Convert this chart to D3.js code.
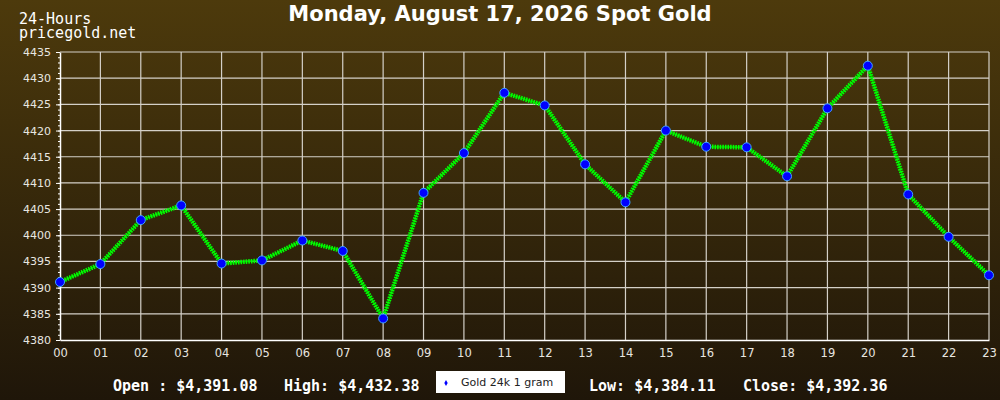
<!DOCTYPE html>
<html>
<head>
<meta charset="utf-8">
<script src="https://cdn.jsdelivr.net/npm/d3@7"></script>
<style>
  html, body { margin: 0; padding: 0; background: #201709; }
  svg { display: block; }
</style>
</head>
<body>
<div id="chart"></div>
<script>
// data
const hours = ["00", "01", "02", "03", "04", "05", "06", "07", "08", "09", "10", "11",
  "12", "13", "14", "15", "16", "17", "18", "19", "20", "21", "22", "23"];
const prices = [4391.08, 4394.5, 4402.9, 4405.7, 4394.6, 4395.2, 4399.0, 4397.0,
  4384.11, 4408.1, 4415.7, 4427.2, 4424.8, 4413.55, 4406.3, 4420.0, 4416.9, 4416.8,
  4411.26, 4424.25, 4432.38, 4407.8, 4399.7, 4392.36];
const yTicks = [4380, 4385, 4390, 4395, 4400, 4405, 4410, 4415, 4420, 4425, 4430, 4435];
const titleText = "Monday, August 17, 2026 Spot Gold";
const stats = [
  { label: "Open : $4,391.08", x: 113 },
  { label: "High: $4,432.38", x: 284 },
  { label: "Low: $4,384.11", x: 589 },
  { label: "Close: $4,392.36", x: 743 }
];
const seriesName = "Gold 24k 1 gram";

const width = 1000;
const height = 400;
const margin = { top: 52, right: 11, bottom: 60, left: 60 };
const innerWidth = width - margin.left - margin.right;
const innerHeight = height - margin.top - margin.bottom;

const svg = d3.select("#chart")
  .append("svg")
    .attr("width", width)
    .attr("height", height)
    .attr("viewBox", `0 0 ${width} ${height}`);

// background gradient
const grad = svg.append("defs")
  .append("linearGradient")
    .attr("id", "bg")
    .attr("x1", 0).attr("y1", 0).attr("x2", 0).attr("y2", 1);
grad.append("stop").attr("offset", "0%").attr("stop-color", "#4d3a0c");
grad.append("stop").attr("offset", "100%").attr("stop-color", "#1f1609");

svg.append("rect")
  .attr("width", width)
  .attr("height", height)
  .attr("fill", "url(#bg)");

const xScale = d3.scalePoint()
  .domain(hours)
  .range([0, innerWidth]);

const yScale = d3.scaleLinear()
  .domain([4380, 4435])
  .range([innerHeight, 0]);

const chart = svg.append("g")
  .attr("transform", `translate(${margin.left}, ${margin.top})`);

// grid
chart.append("g")
  .selectAll("line")
  .data(hours.slice(1))
  .join("line")
    .attr("x1", (d) => xScale(d)).attr("x2", (d) => xScale(d))
    .attr("y1", 0).attr("y2", innerHeight)
    .attr("stroke", "#d4d0c8").attr("stroke-width", 1.2);

chart.append("g")
  .selectAll("line")
  .data(yTicks.slice(1))
  .join("line")
    .attr("x1", 0).attr("x2", innerWidth)
    .attr("y1", (d) => yScale(d)).attr("y2", (d) => yScale(d))
    .attr("stroke", "#d4d0c8").attr("stroke-width", 1.2);

// y axis: major ticks every 5, minor every 1
const yMinor = chart.append("g")
  .call(d3.axisLeft(yScale).ticks(55).tickSize(2).tickFormat(""));
yMinor.select(".domain").remove();
yMinor.selectAll("text").remove();
yMinor.selectAll("line").attr("stroke", "#ffffff");

const yAxis = chart.append("g")
  .call(d3.axisLeft(yScale).tickValues(yTicks).tickFormat(d3.format("d"))
    .tickSize(4).tickPadding(5).tickSizeOuter(0));
yAxis.select(".domain").attr("stroke", "#ffffff").attr("stroke-width", 1.5);
yAxis.selectAll(".tick line").attr("stroke", "#ffffff");
yAxis.selectAll("text")
  .attr("fill", "#e8e6e0")
  .attr("font-family", "DejaVu Sans")
  .attr("font-size", 11);

// x axis
const xAxis = chart.append("g")
  .attr("transform", `translate(0, ${innerHeight})`)
  .call(d3.axisBottom(xScale).tickSize(0).tickPadding(9).tickSizeOuter(0));
xAxis.select(".domain").attr("stroke", "#ffffff").attr("stroke-width", 1.5);
xAxis.selectAll("text")
  .attr("fill", "#e8e6e0")
  .attr("font-family", "DejaVu Sans")
  .attr("font-size", 11.5);

// price line with hatched look
const line = d3.line()
  .x((d, i) => xScale(hours[i]))
  .y((d) => yScale(d));

chart.append("path")
  .datum(prices)
  .attr("d", line)
  .attr("fill", "none")
  .attr("stroke", "#00c800")
  .attr("stroke-width", 1.5);

chart.append("path")
  .datum(prices)
  .attr("d", line)
  .attr("fill", "none")
  .attr("stroke", "#00ff00")
  .attr("stroke-width", 4.5)
  .attr("stroke-dasharray", "1.6 1");

// markers
chart.selectAll(".dot")
  .data(prices)
  .join("circle")
    .attr("class", "dot")
    .attr("cx", (d, i) => xScale(hours[i]))
    .attr("cy", (d) => yScale(d))
    .attr("r", 4.5)
    .attr("fill", "#0000ff")
    .attr("stroke", "#3fa4ff")
    .attr("stroke-width", 1);

// titles
svg.append("text")
  .attr("x", 500).attr("y", 21)
  .attr("text-anchor", "middle")
  .attr("fill", "#ffffff")
  .attr("font-family", "DejaVu Sans")
  .attr("font-weight", "bold")
  .attr("font-size", 21)
  .text(titleText);

svg.append("text")
  .attr("x", 19).attr("y", 24)
  .attr("fill", "#ffffff")
  .attr("font-family", "DejaVu Sans Mono")
  .attr("font-size", 15)
  .text("24-Hours");

svg.append("text")
  .attr("x", 19).attr("y", 38)
  .attr("fill", "#ffffff")
  .attr("font-family", "DejaVu Sans Mono")
  .attr("font-size", 15)
  .text("pricegold.net");

// bottom stats
svg.selectAll(".stat")
  .data(stats)
  .join("text")
    .attr("class", "stat")
    .attr("x", (d) => d.x).attr("y", 391)
    .attr("fill", "#ffffff")
    .attr("font-family", "DejaVu Sans Mono")
    .attr("font-weight", "bold")
    .attr("font-size", 15)
    .text((d) => d.label);

// legend
const legend = svg.append("g").attr("transform", "translate(436, 371)");
legend.append("rect")
  .attr("width", 129).attr("height", 22)
  .attr("fill", "#ffffff");
legend.append("path")
  .attr("d", d3.symbol(d3.symbolDiamond, 10)())
  .attr("transform", "translate(10, 12)")
  .attr("fill", "#0000ff");
legend.append("text")
  .attr("x", 25).attr("y", 15)
  .attr("fill", "#222222")
  .attr("font-family", "DejaVu Sans")
  .attr("font-size", 11)
  .text(seriesName);
</script>
</body>
</html>
